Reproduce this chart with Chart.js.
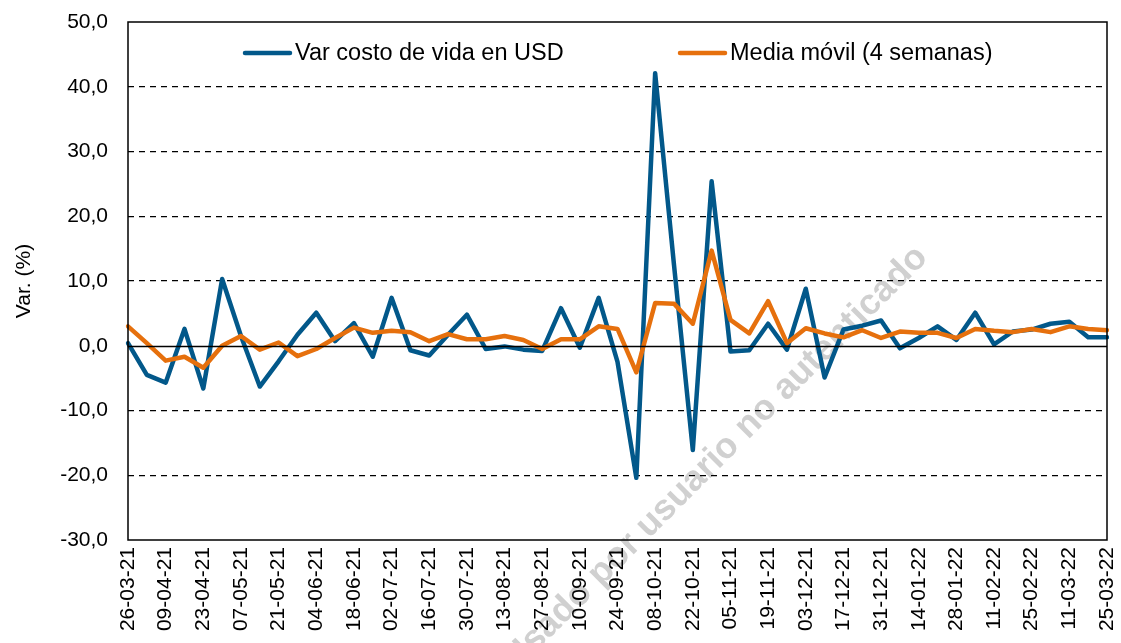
<!DOCTYPE html>
<html>
<head>
<meta charset="utf-8">
<script src="https://cdn.jsdelivr.net/npm/chart.js@4.4.1/dist/chart.umd.min.js"></script>
<style>
  html, body { margin: 0; padding: 0; background: #ffffff; }
  #chart { display: block; }
</style>
</head>
<body>
<canvas id="chart" width="1121" height="643"></canvas>
<script>
// weekly dates (every other one is printed on the axis)
const weeks = [
  '26-03-21', '02-04-21', '09-04-21', '16-04-21', '23-04-21', '30-04-21', '07-05-21', '14-05-21',
  '21-05-21', '28-05-21', '04-06-21', '11-06-21', '18-06-21', '25-06-21', '02-07-21', '09-07-21',
  '16-07-21', '23-07-21', '30-07-21', '06-08-21', '13-08-21', '20-08-21', '27-08-21', '03-09-21',
  '10-09-21', '17-09-21', '24-09-21', '01-10-21', '08-10-21', '15-10-21', '22-10-21', '29-10-21',
  '05-11-21', '12-11-21', '19-11-21', '26-11-21', '03-12-21', '10-12-21', '17-12-21', '24-12-21',
  '31-12-21', '07-01-22', '14-01-22', '21-01-22', '28-01-22', '04-02-22', '11-02-22', '18-02-22',
  '25-02-22', '04-03-22', '11-03-22', '18-03-22', '25-03-22'
];

const varCosto = [
  0.4, -4.5, -5.7, 2.6, -6.6, 10.3, 1.5, -6.3, -2.4, 1.7, 5.1, 0.7, 3.5, -1.7, 7.4, -0.7,
  -1.5, 1.7, 4.8, -0.5, -0.1, -0.6, -0.8, 5.8, -0.3, 7.4, -2.5, -20.4, 42.1, 12.5, -16.1, 25.4,
  -0.9, -0.7, 3.4, -0.6, 8.8, -4.9, 2.5, 3.1, 3.9, -0.4, 1.2, 3.0, 0.9, 5.1, 0.2, 2.2,
  2.5, 3.4, 3.7, 1.3, 1.3
];

const mediaMovil = [
  3.0, 0.4, -2.3, -1.7, -3.4, 0.0, 1.5, -0.6, 0.5, -1.6, -0.5, 1.2, 2.8, 2.0, 2.3, 2.1,
  0.7, 1.8, 1.0, 1.0, 1.5, 0.9, -0.5, 1.0, 1.0, 3.0, 2.6, -4.1, 6.6, 6.5, 3.4, 14.7,
  4.0, 1.9, 6.9, 0.4, 2.7, 1.9, 1.3, 2.4, 1.2, 2.2, 2.0, 2.0, 1.2, 2.6, 2.3, 2.1,
  2.6, 2.1, 3.0, 2.6, 2.4
];

const yMin = -30;
const yMax = 50;
const yStep = 10;

const BLUE = '#02588a';
const ORANGE = '#e6700d';
const FONT = 'Arial, "Liberation Sans", sans-serif';

// watermark, legend, solid zero line and frame
const extras = {
  id: 'extras',
  beforeDraw(chart) {
    const ctx = chart.ctx;
    ctx.save();
    ctx.translate(922, 252);
    ctx.rotate(-Math.PI / 4);
    ctx.font = 'bold 36px ' + FONT;
    ctx.fillStyle = '#d0d0d0';
    ctx.textAlign = 'right';
    ctx.textBaseline = 'middle';
    ctx.fillText('Usado por usuario no autenticado', 0, 0);
    ctx.restore();
  },
  afterDraw(chart) {
    const { ctx, chartArea } = chart;
    const y = chart.scales.y;
    ctx.save();
    ctx.strokeStyle = '#000';
    ctx.lineWidth = 1.5;
    ctx.setLineDash([]);
    const y0 = Math.round(y.getPixelForValue(0)) + 0.5;
    ctx.beginPath();
    ctx.moveTo(chartArea.left, y0);
    ctx.lineTo(chartArea.right, y0);
    ctx.stroke();
    ctx.strokeRect(chartArea.left, chartArea.top, chartArea.right - chartArea.left, chartArea.bottom - chartArea.top);

    // legend
    const items = [
      { x: 245, color: BLUE, text: chart.data.datasets[1].label },
      { x: 680, color: ORANGE, text: chart.data.datasets[0].label }
    ];
    ctx.font = '23.5px ' + FONT;
    ctx.textBaseline = 'middle';
    ctx.textAlign = 'left';
    items.forEach(it => {
      ctx.strokeStyle = it.color;
      ctx.lineWidth = 4.5;
      ctx.lineCap = 'round';
      ctx.beginPath();
      ctx.moveTo(it.x, 53);
      ctx.lineTo(it.x + 45, 53);
      ctx.stroke();
      ctx.fillStyle = '#000';
      ctx.fillText(it.text, it.x + 50, 54);
    });
    ctx.restore();
  }
};

new Chart(document.getElementById('chart'), {
  type: 'line',
  data: {
    labels: weeks,
    datasets: [
      {
        label: 'Media móvil (4 semanas)',
        data: mediaMovil,
        borderColor: ORANGE,
        borderWidth: 4.5,
        pointRadius: 0,
        tension: 0,
        borderJoinStyle: 'round',
        borderCapStyle: 'round',
        order: 1
      },
      {
        label: 'Var costo de vida en USD',
        data: varCosto,
        borderColor: BLUE,
        borderWidth: 4.5,
        pointRadius: 0,
        tension: 0,
        borderJoinStyle: 'round',
        borderCapStyle: 'round',
        order: 2
      }
    ]
  },
  options: {
    responsive: false,
    animation: false,
    devicePixelRatio: 1,
    layout: { padding: { top: 22, right: 14, left: 0, bottom: 0 } },
    plugins: {
      legend: { display: false },
      tooltip: { enabled: false }
    },
    scales: {
      x: {
        offset: false,
        grid: { display: false, drawTicks: false },
        border: { display: false },
        afterFit(scale) {
          scale.height = 103;
          scale.paddingLeft = 0;
          scale.paddingRight = 0;
        },
        ticks: {
          autoSkip: false,
          maxRotation: 90,
          minRotation: 90,
          padding: 7,
          color: '#000',
          font: { family: FONT, size: 21 },
          callback(value, index) {
            return index % 2 === 0 ? weeks[index] : '';
          }
        }
      },
      y: {
        min: yMin,
        max: yMax,
        afterFit(scale) {
          scale.width = 128;
          scale.paddingTop = 0;
          scale.paddingBottom = 0;
        },
        grid: {
          drawTicks: false,
          lineWidth: 1.2,
          color(ctx) {
            const v = ctx.tick && ctx.tick.value;
            return (v === 0 || v === yMin || v === yMax) ? 'rgba(0,0,0,0)' : '#000';
          }
        },
        border: { display: false, dash: [6, 5] },
        title: {
          display: true,
          text: 'Var. (%)',
          color: '#000',
          font: { family: FONT, size: 21 },
          padding: { top: 12, bottom: 0 }
        },
        ticks: {
          stepSize: yStep,
          padding: 20,
          color: '#000',
          font: { family: FONT, size: 21 },
          callback(value) {
            return value.toFixed(1).replace('.', ',');
          }
        }
      }
    }
  },
  plugins: [extras]
});
</script>
</body>
</html>
